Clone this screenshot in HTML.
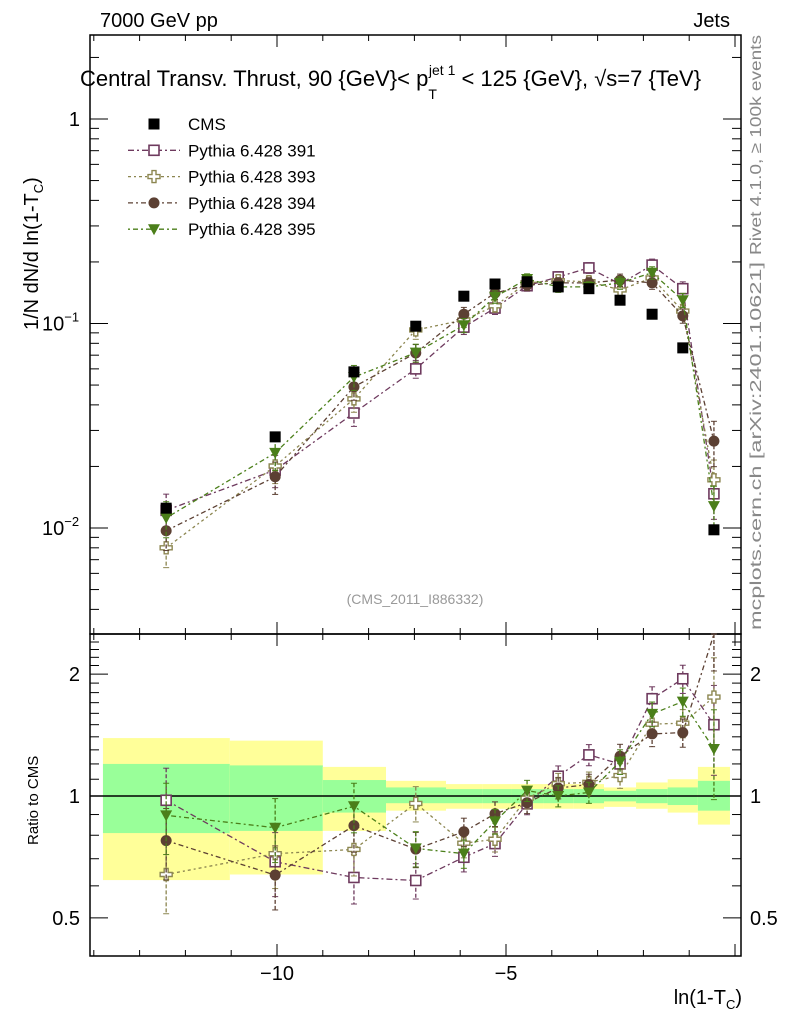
<!DOCTYPE html>
<html><head><meta charset="utf-8"><style>
html,body{margin:0;padding:0;background:#fff;}
svg{display:block;font-family:"Liberation Sans",sans-serif;}
</style></head><body>
<svg id="chart" width="786" height="1024" xmlns="http://www.w3.org/2000/svg">
<g id="bands"></g>
<g id="grid"></g>
<g id="series"></g>
<text x="100" y="27" font-size="20">7000 GeV pp</text>
<text x="730" y="27" font-size="20" text-anchor="end">Jets</text>
<text x="80" y="86" font-size="22">Central Transv. Thrust, 90 {GeV}&lt; p<tspan font-size="14" dy="13">T</tspan><tspan font-size="14" dx="-8" dy="-24">jet 1</tspan><tspan dy="11"> &lt; 125 {GeV}, √s=7 {TeV}</tspan></text>
<text transform="translate(38,330) rotate(-90)" font-size="20">1/N    dN/d ln(1-T<tspan font-size="13" dy="5">C</tspan><tspan dy="-5">)</tspan></text>
<text transform="translate(38,845) rotate(-90)" font-size="15">Ratio to CMS</text>
<text x="742" y="1004" font-size="20" text-anchor="end">ln(1-T<tspan font-size="13" dy="5">C</tspan><tspan dy="-5">)</tspan></text>
<text x="415" y="604" font-size="14" fill="#999" text-anchor="middle">(CMS_2011_I886332)</text>
<text transform="translate(761,255) rotate(-90)" font-size="16" fill="#888" textLength="220" lengthAdjust="spacingAndGlyphs">Rivet 4.1.0, ≥ 100k events</text>
<text transform="translate(761,630) rotate(-90)" font-size="16" fill="#888" textLength="368" lengthAdjust="spacingAndGlyphs">mcplots.cern.ch [arXiv:2401.10621]</text>
<g id="legend"></g>
</svg>
<script>
const xVals=[-12.42,-10.04,-8.32,-6.97,-5.92,-5.24,-4.54,-3.86,-3.19,-2.51,-1.81,-1.14,-0.46];
const cmsVals=[0.0125,0.0279,0.058,0.097,0.136,0.156,0.160,0.151,0.148,0.130,0.111,0.076,0.0098];
const p391=[0.0122,0.0192,0.0365,0.060,0.096,0.119,0.153,0.169,0.187,0.156,0.193,0.148,0.0147];
const p393=[0.0080,0.0201,0.0428,0.093,0.104,0.122,0.158,0.162,0.160,0.146,0.167,0.115,0.0172];
const p394=[0.0097,0.0178,0.049,0.0717,0.111,0.141,0.154,0.158,0.158,0.163,0.158,0.109,0.0266];
const p395=[0.0112,0.0233,0.0547,0.072,0.098,0.135,0.165,0.151,0.151,0.158,0.177,0.130,0.0128];
const mcErr=[0.2,0.18,0.14,0.1,0.08,0.07,0.06,0.06,0.06,0.07,0.07,0.08,0.25];
const binEdges=[-13.8,-11.03,-9.0,-7.62,-6.31,-5.52,-4.87,-4.19,-3.52,-2.86,-2.16,-1.47,-0.81,-0.11];
const yelUp=[1.39,1.37,1.18,1.09,1.07,1.07,1.07,1.07,1.07,1.05,1.08,1.10,1.18];
const yelDn=[0.62,0.64,0.82,0.92,0.93,0.93,0.93,0.93,0.93,0.94,0.93,0.91,0.85];
const grnUp=[1.20,1.19,1.095,1.05,1.04,1.04,1.04,1.04,1.04,1.03,1.04,1.05,1.09];
const grnDn=[0.81,0.82,0.91,0.96,0.96,0.96,0.96,0.96,0.96,0.97,0.96,0.95,0.92];
const xTicks=[-10,-5];
const mainTicks=[1,0.1,0.01];
const mainTickLabels=["1","10","10"];
const ratioTicks=[0.5,1,2];
const ratioTickLabels=["0.5","1","2"];

const L=90,R=741,T=35,MB=634,B=956;
const X=v=>735+v*45.8;
const Y=v=>119-Math.log10(v)*204.5;
const RY=v=>796-Math.log10(v)*405;
const NS="http://www.w3.org/2000/svg";
function mk(tag,attrs,parent){const e=document.createElementNS(NS,tag);for(const k in attrs)e.setAttribute(k,attrs[k]);parent.appendChild(e);return e;}
const bands=document.getElementById('bands'),grid=document.getElementById('grid'),series=document.getElementById('series'),legend=document.getElementById('legend');

for(let i=0;i<yelUp.length;i++){
  const x0=X(binEdges[i]),x1=X(binEdges[i+1]);
  let r=mk('rect',{x:x0,y:RY(yelUp[i]),width:x1-x0,height:RY(yelDn[i])-RY(yelUp[i]),fill:'#ffff99'},bands);
  
  
  r=mk('rect',{x:x0,y:RY(grnUp[i]),width:x1-x0,height:RY(grnDn[i])-RY(grnUp[i]),fill:'#99ff99'},bands);
  
  
}
mk('rect',{x:L,y:T,width:R-L,height:MB-T,fill:'none',stroke:'#000','stroke-width':1.5},grid);
mk('rect',{x:L,y:MB,width:R-L,height:B-MB,fill:'none',stroke:'#000','stroke-width':1.5},grid);
mk('line',{x1:L,x2:R,y1:RY(1),y2:RY(1),stroke:'#000','stroke-width':1.5},grid);
for(let v=-14;v<=0;v+=1){
  const x=X(v);if(x<L||x>R)continue;
  const maj=(v%5===0);const len=maj?12:6;
  for(const yy of [T,MB]) {mk('line',{x1:x,x2:x,y1:yy,y2:yy+len,stroke:'#000'},grid);}
  for(const yy of [MB,B]) {mk('line',{x1:x,x2:x,y1:yy,y2:yy-len,stroke:'#000'},grid);}
}
xTicks.forEach(v=>{const t=mk('text',{x:X(v),y:980,'font-size':20,'text-anchor':'middle'},grid);t.textContent='−'+Math.abs(v);

});
for(let d=-3;d<=0;d++)for(let m=1;m<10;m++){const v=m*Math.pow(10,d);const y=Y(v);if(y<T||y>MB)continue;const len=m===1?18:9;
mk('line',{x1:L,x2:L+len,y1:y,y2:y,stroke:'#000'},grid);mk('line',{x1:R,x2:R-len,y1:y,y2:y,stroke:'#000'},grid);}
mainTicks.forEach((v,i)=>{const t=mk('text',{x:80,y:Y(v)+7,'font-size':20,'text-anchor':'end'},grid);t.textContent=mainTickLabels[i];
if(v<1){const s=mk('tspan',{'font-size':13,dy:-9},t);s.textContent=(v===0.1?'−1':'−2');t.setAttribute('text-anchor','start');t.setAttribute('x',42);}

});
for(let v=0.4;v<=2.5;v+=0.1){const vv=Math.round(v*10)/10;const y=RY(vv);if(y<MB||y>B)continue;const len=(vv===0.5||vv===1||vv===2)?18:9;
mk('line',{x1:L,x2:L+len,y1:y,y2:y,stroke:'#000'},grid);mk('line',{x1:R,x2:R-len,y1:y,y2:y,stroke:'#000'},grid);}
ratioTicks.forEach((v,i)=>{for(const [x,a] of [[80,'end'],[750,'start']]){const t=mk('text',{x:x,y:RY(v)+7,'font-size':20,'text-anchor':a},grid);t.textContent=ratioTickLabels[i];

}});

function marker(g,type,x,y,col){
  if(type==='sq') mk('rect',{x:x-5.5,y:y-5.5,width:11,height:11,fill:'#000'},g);
  else if(type==='osq') mk('rect',{x:x-5,y:y-5,width:10,height:10,fill:'#fff',stroke:col,'stroke-width':1.6},g);
  else if(type==='plus') mk('path',{d:`M${x-2},${y-6}h4v4h4v4h-4v4h-4v-4h-4v-4h4z`,fill:'#fff',stroke:col,'stroke-width':1.4},g);
  else if(type==='circ') mk('circle',{cx:x,cy:y,r:5.5,fill:col},g);
  else if(type==='tri') mk('path',{d:`M${x-6},${y-5}L${x+6},${y-5}L${x},${y+6}Z`,fill:col},g);
}
const defs=[
 {name:'Pythia 6.428 391',vals:p391,type:'osq',col:'#6e3a5e',dash:'6,3,2,3'},
 {name:'Pythia 6.428 393',vals:p393,type:'plus',col:'#8c8650',dash:'3,3,2,3'},
 {name:'Pythia 6.428 394',vals:p394,type:'circ',col:'#5c4033',dash:'5,3,2,3'},
 {name:'Pythia 6.428 395',vals:p395,type:'tri',col:'#4b7f1a',dash:'2,3,5,3'}];
function clipY(y,lo,hi){return Math.max(lo,Math.min(hi,y));}
defs.forEach((d,si)=>{
  const g=mk('g',{},series);
  
  
  const pts=xVals.map((x,i)=>X(x)+','+Y(d.vals[i])).join(' ');
  mk('polyline',{points:pts,fill:'none',stroke:d.col,'stroke-width':1.3,'stroke-dasharray':d.dash},g);
  const rv=d.vals.map((v,i)=>v/cmsVals[i]);
  const rpts=xVals.map((x,i)=>X(x)+','+clipY(RY(rv[i]),MB,B)).join(' ');
  mk('polyline',{points:rpts,fill:'none',stroke:d.col,'stroke-width':1.3,'stroke-dasharray':d.dash},g);
  xVals.forEach((xv,i)=>{
    const x=X(xv),e=mcErr[i];
    const y1=Y(d.vals[i]*(1+e)),y2=Y(d.vals[i]*(1-e));
    mk('line',{x1:x,x2:x,y1:y1,y2:y2,stroke:d.col,'stroke-width':1.3,'stroke-dasharray':'4,2'},g);
    mk('line',{x1:x-3,x2:x+3,y1:y1,y2:y1,stroke:d.col},g);mk('line',{x1:x-3,x2:x+3,y1:y2,y2:y2,stroke:d.col},g);
    const ry1=clipY(RY(rv[i]*(1+e)),MB,B),ry2=clipY(RY(rv[i]*(1-e)),MB,B);
    mk('line',{x1:x,x2:x,y1:ry1,y2:ry2,stroke:d.col,'stroke-width':1.3,'stroke-dasharray':'4,2'},g);
    mk('line',{x1:x-3,x2:x+3,y1:ry1,y2:ry1,stroke:d.col},g);mk('line',{x1:x-3,x2:x+3,y1:ry2,y2:ry2,stroke:d.col},g);
    marker(g,d.type,x,Y(d.vals[i]),d.col);
    const ry=RY(rv[i]);if(ry>MB&&ry<B)marker(g,d.type,x,ry,d.col);
  });
});
const cg=mk('g',{},series);


xVals.forEach((xv,i)=>marker(cg,'sq',X(xv),Y(cmsVals[i]),'#000'));

const items=[{name:'CMS',type:'sq',col:'#000'}].concat(defs);
items.forEach((d,i)=>{
  const y=124+i*26.3;
  const g=mk('g',{},legend);
  
  
  if(i>0) mk('line',{x1:128,x2:180,y1:y,y2:y,stroke:d.col,'stroke-width':1.3,'stroke-dasharray':d.dash},g);
  marker(g,d.type,154,y,d.col);
  const t=mk('text',{x:188,y:y+6,'font-size':17},g);t.textContent=d.name;
});
</script>
</body></html>
